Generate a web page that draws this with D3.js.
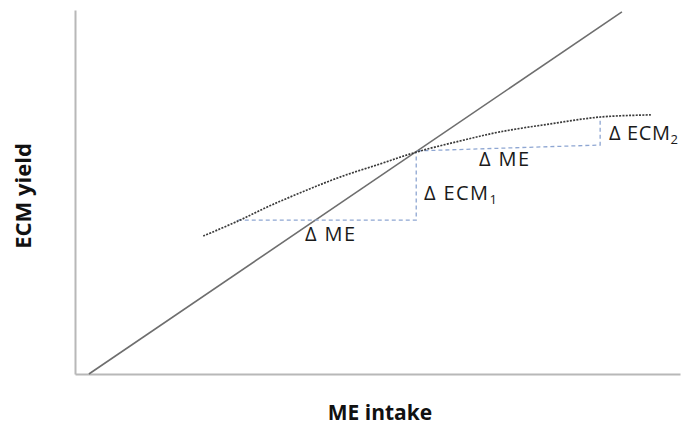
<!DOCTYPE html>
<html>
<head>
<meta charset="utf-8">
<script src="https://cdn.jsdelivr.net/npm/d3@7"></script>
<style>
  html, body { margin: 0; padding: 0; background: #fff; }
  svg { display: block; }
</style>
</head>
<body>
<svg id="chart" width="683" height="427"></svg>
<script>
// ---- data (arbitrary units 0-100) ----
const responseX = [21.2, 26.9, 32.2, 38.0, 43.8, 50.4, 56.5, 63.6, 70.2, 78.5, 86.8, 95.4];
const responseY = [37.9, 42.0, 46.2, 50.3, 54.1, 57.7, 61.0, 64.0, 66.5, 68.7, 70.6, 71.2];
const diagonalX = [2.3, 90.4];
const diagonalY = [0, 99.5];
const step1X = [26.9, 56.4, 56.4];
const step1Y = [42.3, 42.3, 61.0];
const step2X = [56.6, 86.8, 86.8];
const step2Y = [61.3, 62.9, 70.6];
const axisTitles = ["ME intake", "ECM yield"];

const svg = d3.select("#chart");
const x = d3.scaleLinear().domain([0, 100]).range([75, 680]);
const y = d3.scaleLinear().domain([0, 100]).range([374, 10]);

// axes (lines only, no ticks)
const axisColor = "#b8b8b8";
const gx = svg.append("g").attr("transform", `translate(0,${y(0)})`)
  .call(d3.axisBottom(x).tickValues([]).tickSizeOuter(0));
const gy = svg.append("g").attr("transform", `translate(${x(0)},0)`)
  .call(d3.axisLeft(y).tickValues([]).tickSizeOuter(0));
[gx, gy].forEach(g => g.select(".domain").attr("stroke", axisColor).attr("stroke-width", 2));

const line = d3.line().x(d => x(d[0])).y(d => y(d[1]));

// diagonal
svg.append("path")
  .datum(d3.zip(diagonalX, diagonalY))
  .attr("d", line)
  .attr("fill", "none").attr("stroke", "#6e6e6e").attr("stroke-width", 1.6);

// dashed steps
[[step1X, step1Y], [step2X, step2Y]].forEach(([sx, sy]) => {
  svg.append("path")
    .datum(d3.zip(sx, sy))
    .attr("d", line)
    .attr("fill", "none").attr("stroke", "#8ea6d2").attr("stroke-width", 1.3)
    .attr("stroke-dasharray", "4,3");
});

// response curve (dotted)
svg.append("path")
  .datum(d3.zip(responseX, responseY))
  .attr("d", line.curve(d3.curveCatmullRom))
  .attr("fill", "none").attr("stroke", "#3a3a3a").attr("stroke-width", 1.7)
  .attr("stroke-dasharray", "2,1.3");

// annotations
const font = "'Open Sans', sans-serif";
function label(px, py, main, sub, spacing) {
  const t = svg.append("text").attr("x", px).attr("y", py)
    .attr("font-family", font).attr("font-size", 20).attr("fill", "#1a1a1a")
    .attr("letter-spacing", spacing);
  t.append("tspan").text(main);
  if (sub) t.append("tspan").attr("dy", 4).attr("font-size", 13).text(sub);
}
label(305, 241, "\u0394 ME", null, 1.4);
label(424, 200, "\u0394 ECM", "1", 1.4);
label(479, 166, "\u0394 ME", null, 1.4);
label(609, 140, "\u0394 ECM", "2", 0.6);

// axis titles
svg.append("text").attr("x", 380).attr("y", 420).attr("text-anchor", "middle")
  .attr("font-family", font).attr("font-weight", "bold").attr("font-size", 21)
  .attr("fill", "#111").text(axisTitles[0]);
svg.append("text").attr("transform", "translate(31,196) rotate(-90)")
  .attr("text-anchor", "middle")
  .attr("font-family", font).attr("font-weight", "bold").attr("font-size", 22)
  .attr("fill", "#111").text(axisTitles[1]);
</script>
</body>
</html>
